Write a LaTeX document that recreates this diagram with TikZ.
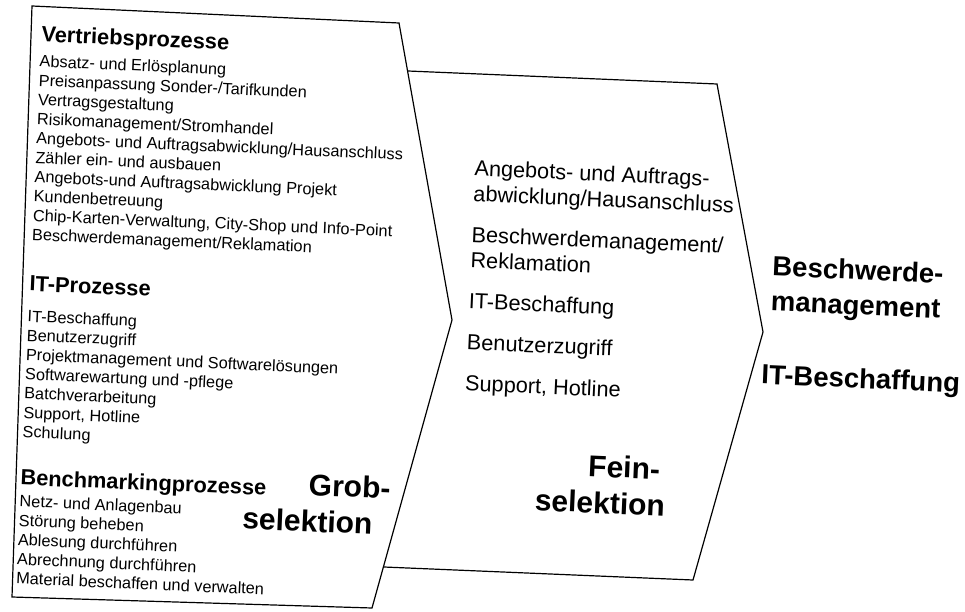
\documentclass[tikz,border=0pt]{standalone}
\usepackage{fontspec}
\setmainfont{Liberation Sans}
\begin{document}
\begin{tikzpicture}[x=1pt,y=-1pt,
  txt/.style={inner sep=0pt, outer sep=0pt, rotate=-2.5, anchor=north west, align=left},
  small/.style={txt, font=\fontsize{16.3}{19.3}\selectfont},
  head/.style={txt, font=\fontsize{21.8}{26}\selectfont\bfseries},
  mid/.style={txt, font=\fontsize{21.7}{25.5}\selectfont},
  big/.style={txt, font=\fontsize{30}{36.5}\selectfont\bfseries},
  rightlab/.style={txt, font=\fontsize{27.5}{35}\selectfont\bfseries},
  outline/.style={line width=1.2pt, line join=miter}]
\useasboundingbox (0,0) rectangle (965,612);
% left chevron
\coordinate (a1) at (32,6);
\coordinate (a2) at (399,23);
\coordinate (a3) at (452,320);
\coordinate (a4) at (372,608);
\coordinate (a5) at (12,597);
\draw[outline] (a1) -- (a2) -- (a3) -- (a4) -- (a5) -- cycle;
% second chevron
\coordinate (b1) at (408,71);
\coordinate (b2) at (717,84);
\coordinate (b3) at (763,332);
\coordinate (b4) at (693,580);
\coordinate (b5) at (384,567);
\draw[outline] (b1) -- (b2) -- (b3) -- (b4) -- (b5);
% left texts
\node[head] (hV) at (42,26) {Vertriebsprozesse};
\node[small] (lV) at (40,55) {Absatz- und Erlösplanung\\Preisanpassung Sonder-/Tarifkunden\\Vertragsgestaltung\\Risikomanagement/Stromhandel\\Angebots- und Auftragsabwicklung/Hausanschluss\\Zähler ein- und ausbauen\\Angebots-und Auftragsabwicklung Projekt\\Kundenbetreuung\\Chip-Karten-Verwaltung, City-Shop und Info-Point\\Beschwerdemanagement/Reklamation};
\node[head] (hI) at (30,276) {IT-Prozesse};
\node[small] (lI) at (28,310) {IT-Beschaffung\\Benutzerzugriff\\Projektmanagement und Softwarelösungen\\Softwarewartung und -pflege\\Batchverarbeitung\\Support, Hotline\\Schulung};
\node[head] (hB) at (21,469) {Benchmarkingprozesse};
\node[small] (lB) at (20,495) {Netz- und Anlagenbau\\Störung beheben\\Ablesung durchführen\\Abrechnung durchführen\\Material beschaffen und verwalten};
\node[big, anchor=north east, align=right] (grob) at (391,477) {Grob-\\selektion\hspace*{16.5pt}};
% middle texts
\node[mid] (mlist) at (475,160) {Angebots- und Auftrags-\\abwicklung/Hausanschluss\\[15.5pt]Beschwerdemanagement/\\Reklamation\\[15.5pt]IT-Beschaffung\\[15.5pt]Benutzerzugriff\\[15.5pt]Support, Hotline};
\node[big, anchor=north east, align=right] (fein) at (667,458) {Fein-\hspace*{6.5pt}\\selektion};
% right texts
\node[rightlab] (r1) at (773,256) {Beschwerde-\\management};
\node[rightlab] (r2) at (762,364) {IT-Beschaffung};
\end{tikzpicture}
\end{document}
